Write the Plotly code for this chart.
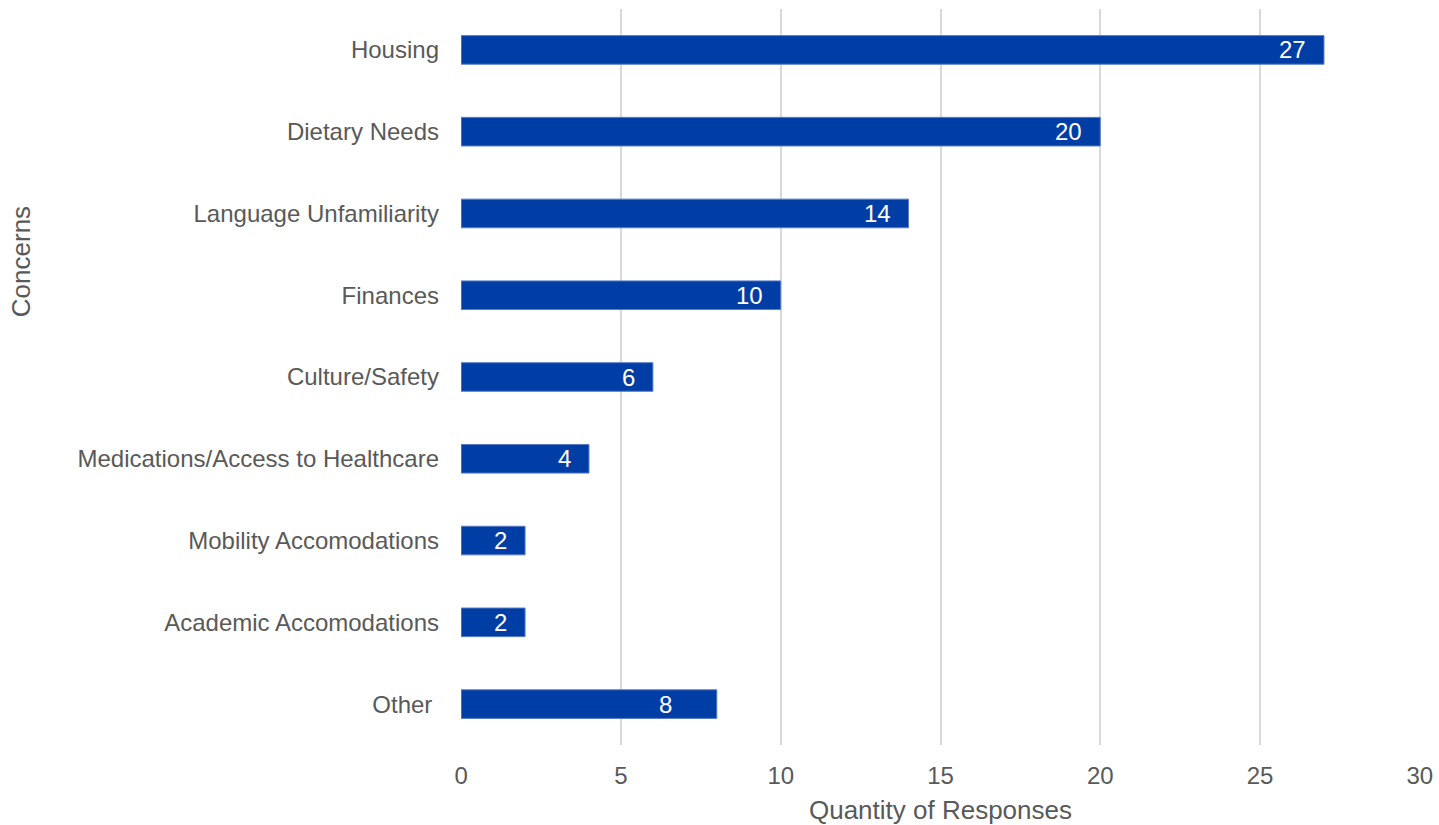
import plotly.graph_objects as go

categories = ["Housing", "Dietary Needs", "Language Unfamiliarity", "Finances",
              "Culture/Safety", "Medications/Access to Healthcare",
              "Mobility Accomodations", "Academic Accomodations", "Other "]
values = [27, 20, 14, 10, 6, 4, 2, 2, 8]
labels = ["27", "20", "14", "10", "6", "4", "2", "2", "8" + "\u00a0" * 4]
x_ticks = [0, 5, 10, 15, 20, 25, 30]

FONT = "Liberation Sans, Arial, sans-serif"
GRAY = "#595959"

fig = go.Figure()
fig.add_trace(go.Bar(
    y=categories, x=values, orientation="h",
    marker=dict(color="#003DA5", line=dict(color="#5a7cc6", width=1)),
    hoverinfo="skip",
))

for c, v, t in zip(categories, values, labels):
    fig.add_annotation(x=v, y=c, text=t, xref="x", yref="y",
                       xanchor="right", yanchor="middle", xshift=-16,
                       showarrow=False,
                       font=dict(family=FONT, size=24, color="white"))

# y-axis title (placed higher than plot centre, as in the reference)
fig.add_annotation(x=0, y=0.656, xref="paper", yref="paper",
                   text="Concerns", textangle=-90, showarrow=False,
                   xanchor="center", yanchor="middle", xshift=-440,
                   font=dict(family=FONT, size=26, color=GRAY))

fig.update_layout(
    width=1439, height=825,
    margin=dict(l=461, r=19, t=9, b=80),
    plot_bgcolor="white", paper_bgcolor="white",
    bargap=0.65,
    showlegend=False,
    font=dict(family=FONT, color=GRAY, size=24),
)
fig.update_xaxes(
    range=[-0.005, 30.005], tickvals=x_ticks, ticktext=[str(v) for v in x_ticks],
    showgrid=True, gridcolor="#d9d9d9", gridwidth=1.5,
    zeroline=False, showline=False, automargin=False,
    ticks="", ticklabelstandoff=14,
    tickfont=dict(family=FONT, size=24, color=GRAY),
    title=dict(text="Quantity of Responses", standoff=24,
               font=dict(family=FONT, size=26, color=GRAY)),
)
fig.update_yaxes(
    categoryorder="array", categoryarray=categories, autorange="reversed",
    showgrid=False, zeroline=False, showline=False, automargin=False,
    ticks="", ticklabelstandoff=21,
    tickfont=dict(family=FONT, size=24, color=GRAY),
)

fig.write_html("out.html",
               config={"displayModeBar": False},
               post_script="document.body.style.margin='0';"
                           "document.body.style.overflow='hidden';")
